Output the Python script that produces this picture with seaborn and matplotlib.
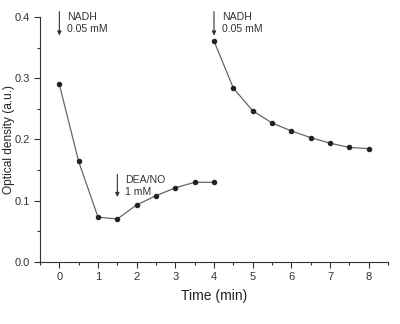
import matplotlib
matplotlib.use("Agg")
import matplotlib.pyplot as plt
from matplotlib.ticker import MultipleLocator
import pandas as pd
import seaborn as sns

# first phase: NADH added at t=0, DEA/NO at t=1.5
t1 = [0, 0.5, 1, 1.5, 2, 2.5, 3, 3.5, 4]
od1 = [0.290, 0.164, 0.073, 0.070, 0.093, 0.108, 0.121, 0.130, 0.130]
# second phase: NADH re-added at t=4
t2 = [4, 4.5, 5, 5.5, 6, 6.5, 7, 7.5, 8]
od2 = [0.361, 0.284, 0.247, 0.227, 0.214, 0.203, 0.194, 0.187, 0.185]

notes = [(0, "NADH\n0.05 mM", 0.409, 0.370),
         (1.5, "DEA/NO\n1 mM", 0.143, 0.106),
         (4, "NADH\n0.05 mM", 0.409, 0.370)]

sns.set_style("ticks")
plt.rcParams["font.family"] = ["Liberation Sans", "DejaVu Sans"]

LINE, DOT, TXT = "#666666", "#222222", "#333333"

fig = plt.figure(figsize=(4.0, 3.24), dpi=100)
ax = fig.add_axes([0.1, 0.192, 0.87, 0.755])

for t, od in [(t1, od1), (t2, od2)]:
    df = pd.DataFrame({"t": t, "od": od})
    sns.lineplot(data=df, x="t", y="od", ax=ax, color=LINE, lw=0.9,
                 marker="o", markersize=3.2, markerfacecolor=DOT,
                 markeredgecolor=DOT)

for x, label, y0, y1 in notes:
    ax.annotate("", xy=(x, y1), xytext=(x, y0), annotation_clip=False,
                arrowprops=dict(arrowstyle="-|>", color=TXT, lw=0.8,
                                mutation_scale=6, shrinkA=0, shrinkB=0))
    ax.text(x + 0.2, y0 - 0.001, label, ha="left", va="top", fontsize=7.6,
            color=TXT, linespacing=1.2, clip_on=False)

ax.set_xlim(-0.5, 8.5)
ax.set_ylim(0, 0.4)
ax.xaxis.set_major_locator(MultipleLocator(1))
ax.xaxis.set_minor_locator(MultipleLocator(0.5))
ax.yaxis.set_major_locator(MultipleLocator(0.1))
ax.yaxis.set_minor_locator(MultipleLocator(0.05))
ax.yaxis.set_major_formatter(matplotlib.ticker.FormatStrFormatter("%.1f"))
ax.tick_params(which="major", length=4, width=0.8, labelsize=8, colors="#333333")
ax.tick_params(which="minor", length=2.5, width=0.8, colors="#333333")
for s in ["left", "bottom"]:
    ax.spines[s].set_color("#333333")
    ax.spines[s].set_linewidth(0.8)
sns.despine(ax=ax)

ax.set_xlabel("Time (min)", fontsize=10, color="#222222", labelpad=5)
ax.set_ylabel("Optical density (a.u.)", fontsize=8.6, color="#222222")
ax.yaxis.set_label_coords(-0.072, 0.5)

fig.savefig("out.png", dpi=100)
